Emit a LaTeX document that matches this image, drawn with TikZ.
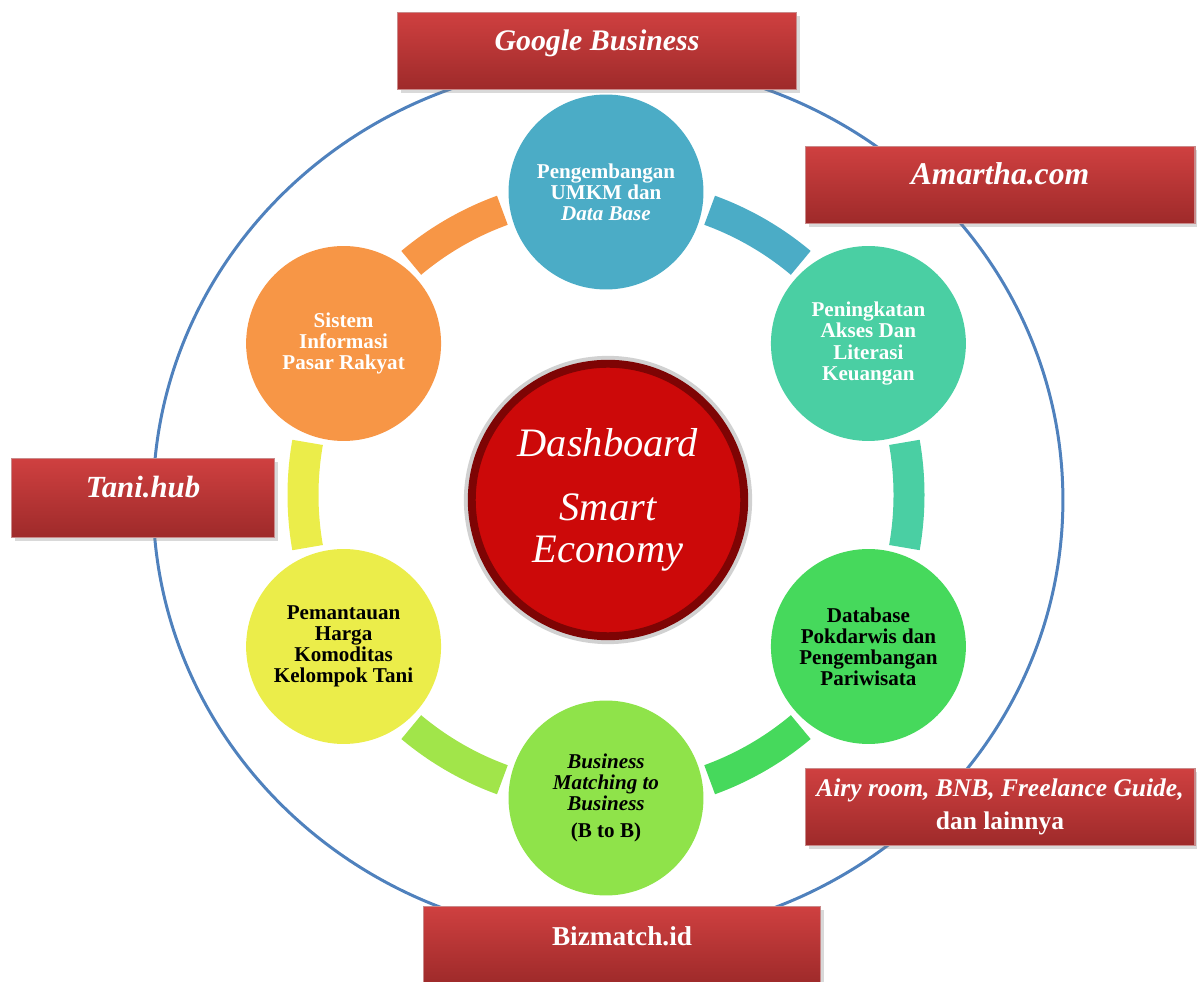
\documentclass[tikz,border=0pt]{standalone}
\usepackage{fontspec}
\setmainfont{Liberation Serif}
\usetikzlibrary{shadows}

\definecolor{cBlue}{HTML}{4BACC6}
\definecolor{cTeal}{HTML}{4ACFA3}
\definecolor{cGreen}{HTML}{46D95C}
\definecolor{cLime}{HTML}{8FE34A}
\definecolor{cYellow}{HTML}{EBED4A}
\definecolor{cOrange}{HTML}{F79646}
\definecolor{cOrbit}{HTML}{4F81BD}
\definecolor{hubRed}{HTML}{CC0909}
\definecolor{hubRim}{HTML}{7E0404}
\definecolor{tagTop}{HTML}{CF4040}
\definecolor{tagBot}{HTML}{9E2A2A}
\definecolor{tagEdge}{HTML}{C98A8A}

\begin{document}
\begin{tikzpicture}[x=0.02cm,y=0.02cm,
  item/.style={circle,minimum size=3.9cm,inner sep=0pt,align=center,font=\bfseries\fontsize{12}{12}\selectfont},
  band/.style={line width=0.62cm},
  tag/.style={rectangle,minimum height=1.55cm,inner sep=0pt,text=white,top color=tagTop,bottom color=tagBot,draw=tagEdge,line width=0.6pt,drop shadow={shadow xshift=2pt,shadow yshift=-2pt,opacity=0.3}}]
\useasboundingbox (0,0) rectangle (1197,981);
\coordinate (ring) at (606,486);
\coordinate (orbit) at (608,481);

% outer orbit
\draw[cOrbit,line width=1.7pt] (orbit) ellipse [x radius=9.1cm,y radius=8.76cm];

% bands between the circles
\draw[band,cBlue] ([shift={(70:303)}]ring) arc[start angle=70,end angle=50,radius=6.06cm];
\draw[band,cTeal] ([shift={(10:303)}]ring) arc[start angle=10,end angle=-10,radius=6.06cm];
\draw[band,cGreen] ([shift={(-50:303)}]ring) arc[start angle=-50,end angle=-70,radius=6.06cm];
\draw[band,cLime!80!cYellow] ([shift={(-110:303)}]ring) arc[start angle=-110,end angle=-130,radius=6.06cm];
\draw[band,cYellow] ([shift={(-170:303)}]ring) arc[start angle=-170,end angle=-190,radius=6.06cm];
\draw[band,cOrange] ([shift={(130:303)}]ring) arc[start angle=130,end angle=110,radius=6.06cm];

% circles
\node (umkm)[item,fill=cBlue,text=white] at ([shift={(90:303)}]ring) {Pengembangan\\UMKM dan\\\textit{Data Base}};
\node (akses)[item,fill=cTeal,text=white] at ([shift={(30:303)}]ring) {Peningkatan\\Akses Dan\\Literasi\\Keuangan};
\node (wisata)[item,fill=cGreen,text=black] at ([shift={(-30:303)}]ring) {Database\\Pokdarwis dan\\Pengembangan\\Pariwisata};
\node (b2b)[item,fill=cLime,text=black] at ([shift={(-90:303)}]ring) {\textit{Business}\\\textit{Matching to}\\\textit{Business}\\[3pt](B to B)};
\node (tani)[item,fill=cYellow,text=black] at ([shift={(-150:303)}]ring) {Pemantauan\\Harga\\Komoditas\\Kelompok Tani};
\node (pasar)[item,fill=cOrange,text=white] at ([shift={(150:303)}]ring) {Sistem\\Informasi\\Pasar Rakyat};

% hub
\node (hub)[circle,minimum size=5.45cm,inner sep=0pt,fill=hubRed,draw=hubRim,line width=4.5pt,preaction={draw=black!18,line width=9pt},text=white,align=center,font=\itshape\fontsize{23}{24}\selectfont] at (orbit) {Dashboard\\[12pt]Smart\\Economy};

% platform tags
\node (google)[tag,minimum width=8cm,text height=0.4cm,text depth=0.4cm,font=\bfseries\itshape\fontsize{17}{20}\selectfont] at (597,930) {Google Business};
\node (amartha)[tag,minimum width=7.8cm,text height=0.4cm,text depth=0.4cm,font=\bfseries\itshape\fontsize{18}{20}\selectfont] at (1000,796) {Amartha.com};
\node (tanihub)[tag,minimum width=5.26cm,minimum height=1.58cm,text height=0.4cm,text depth=0.4cm,font=\bfseries\itshape\fontsize{17.5}{20}\selectfont] at (143,483) {Tani.hub};
\node (airy)[tag,minimum width=7.8cm,align=center,font=\bfseries\fontsize{14.5}{18.7}\selectfont] at (1000,174) {\textit{Airy room, BNB, Freelance Guide,}\\dan lainnya};
\node (bizmatch)[tag,minimum width=7.94cm,text height=0.4cm,text depth=0.4cm,font=\bfseries\fontsize{15.5}{18}\selectfont] at (622,36) {Bizmatch.id};
\end{tikzpicture}
\end{document}
